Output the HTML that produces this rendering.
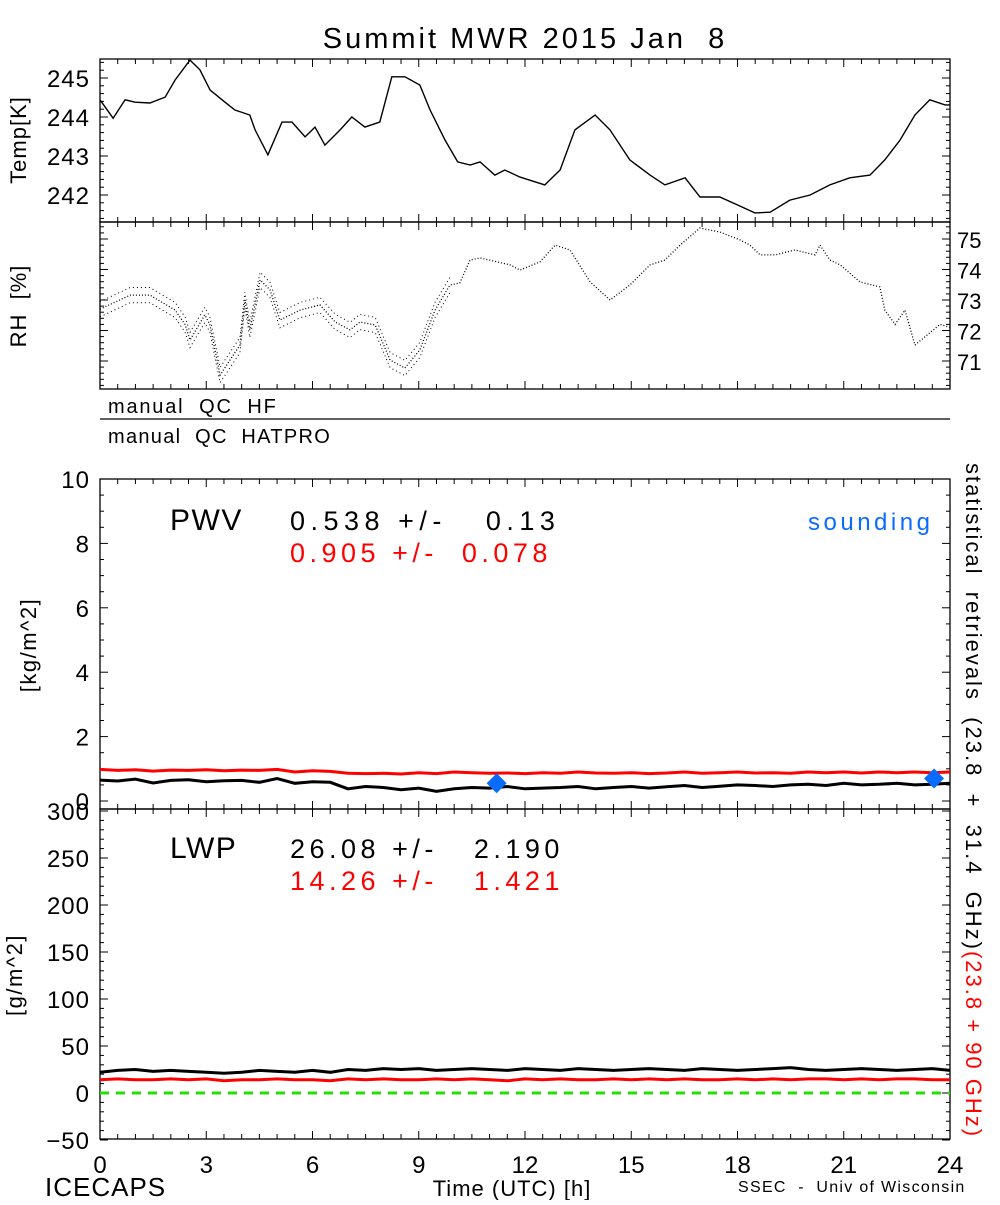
<!DOCTYPE html>
<html><head><meta charset="utf-8"><style>
body{margin:0;background:#fff;}
svg text{font-family:"Liberation Sans",sans-serif;white-space:pre;}
</style></head><body>
<svg id="c" width="1000" height="1200" viewBox="0 0 1000 1200" xmlns="http://www.w3.org/2000/svg" xml:space="preserve">
<rect width="1000" height="1200" fill="#fff"/>
<text x="525" y="48" font-size="29" letter-spacing="3" text-anchor="middle" fill="#000">Summit MWR 2015 Jan  8</text>
<g id="g"></g>
</svg>
<script>
const tempHours=[0,.37,.71,.99,1.41,1.84,2.12,2.54,2.82,3.11,3.53,3.81,4.23,4.38,4.74,5.14,5.42,5.79,6.07,6.35,6.78,7.11,7.48,7.9,8.24,8.61,9.03,9.32,9.74,10.1,10.45,10.73,11.15,11.43,11.86,12.56,12.99,13.41,13.98,14.4,14.96,15.53,15.95,16.52,16.94,17.5,18.01,18.49,18.92,19.48,20.05,20.61,21.17,21.74,22.16,22.59,23.01,23.43,23.86,24];
const tempVals=[244.44,243.97,244.44,244.38,244.36,244.51,244.95,245.46,245.21,244.69,244.38,244.18,244.05,243.67,243.03,243.87,243.87,243.49,243.74,243.28,243.67,244.0,243.74,243.87,245.03,245.03,244.82,244.18,243.41,242.85,242.77,242.85,242.51,242.64,242.46,242.26,242.64,243.67,244.05,243.67,242.9,242.51,242.26,242.44,241.95,241.95,241.74,241.54,241.56,241.87,242.0,242.26,242.44,242.51,242.9,243.41,244.05,244.44,244.31,244.31];
const rhHours=[0,.56,.85,1.41,2.12,2.4,2.54,2.96,3.1,3.39,3.95,4.09,4.23,4.52,4.8,5.08,5.65,6.21,6.64,7.06,7.34,7.77,8.19,8.61,9.03,9.46,9.88,10.16,10.45,10.73,11.58,11.86,12.42,12.85,13.27,13.84,14.4,14.96,15.53,15.95,16.38,16.94,17.5,18.07,18.35,18.64,19.06,19.62,20.19,20.33,20.61,20.9,21.46,22.02,22.16,22.45,22.73,23.01,23.3,23.72,24];
const rhVals=[72.7,73.0,73.16,73.16,72.67,72.2,71.69,72.51,72.2,70.54,71.52,73.0,72.02,73.66,73.33,72.34,72.67,72.84,72.28,72.02,72.28,72.18,71.03,70.77,71.36,72.67,73.49,73.56,74.31,74.38,74.15,73.98,74.25,74.8,74.64,73.59,73.0,73.49,74.15,74.31,74.8,75.36,75.23,74.97,74.8,74.48,74.48,74.64,74.48,74.8,74.31,74.15,73.59,73.43,72.67,72.2,72.67,71.52,71.8,72.2,72.1];
const pwvBlack=[0.65,0.62,0.68,0.56,0.64,0.66,0.6,0.63,0.64,0.58,0.7,0.55,0.6,0.58,0.38,0.45,0.42,0.35,0.4,0.3,0.38,0.42,0.4,0.45,0.38,0.4,0.42,0.45,0.38,0.42,0.45,0.4,0.44,0.48,0.42,0.46,0.5,0.48,0.45,0.5,0.52,0.48,0.55,0.5,0.52,0.55,0.5,0.52,0.55];
const pwvRed=[0.98,0.95,0.97,0.93,0.96,0.95,0.97,0.94,0.96,0.95,0.98,0.9,0.94,0.92,0.86,0.85,0.86,0.84,0.88,0.85,0.9,0.88,0.86,0.87,0.85,0.88,0.86,0.9,0.87,0.86,0.88,0.85,0.87,0.9,0.86,0.88,0.9,0.87,0.88,0.86,0.9,0.88,0.9,0.87,0.9,0.88,0.9,0.88,0.9];
const lwpBlack=[22,24,25,23,24,23,22,21,22,24,23,22,24,22,25,24,26,25,26,24,25,26,25,24,26,25,24,26,25,24,25,26,25,24,26,25,24,25,26,27,25,24,25,26,25,24,25,26,24];
const lwpRed=[14,15,14,14,15,14,15,13,14,14,15,14,14,13,15,14,15,14,14,15,14,15,14,13,15,14,15,14,14,15,14,15,14,15,14,14,15,14,15,14,15,15,14,15,14,15,15,14,14];
const sondeHours=[11.2,23.55];
const sondeVals=[0.55,0.7];
const xTicks=[0,3,6,9,12,15,18,21,24];
const tempTicks=[242,243,244,245];
const rhTicks=[71,72,73,74,75];
const pwvTicks=[0,2,4,6,8,10];
const lwpTicks=[-50,0,50,100,150,200,250,300];

const NS="http://www.w3.org/2000/svg";const G=document.getElementById('g');
function el(t,a,p){const e=document.createElementNS(NS,t);for(const k in a)e.setAttribute(k,a[k]);(p||G).appendChild(e);return e;}
const X0=100,X1=950;const xs=h=>X0+(X1-X0)*h/24;
const P={temp:{t:59,b:222,y:v=>78+(245-v)*39},rh:{t:222,b:389,y:v=>239+(75-v)*30.5},pwv:{t:479,b:809,y:v=>801-v*32.2},lwp:{t:809,b:1139,y:v=>1093-v*0.94}};
function poly(hs,vs,fy,col,w,name,dash){let d=hs.map((h,i)=>(i?'L':'M')+xs(h).toFixed(1)+','+fy(vs[i]).toFixed(1)).join('');const p=el('path',{d:d,fill:'none',stroke:col,'stroke-width':w});if(dash)p.setAttribute('stroke-dasharray',dash);

return p;}
function frame(p,name){const r=el('rect',{x:X0,y:p.t,width:X1-X0,height:p.b-p.t,fill:'none',stroke:'#000','stroke-width':1.3});


for(let h=0;h<=24;h+=0.5){const L=(h%3===0)?8:5;el('line',{x1:xs(h),x2:xs(h),y1:p.t,y2:p.t+L,stroke:'#000'});el('line',{x1:xs(h),x2:xs(h),y1:p.b,y2:p.b-L,stroke:'#000'});}}
function txt(x,y,s,size,col,name,anchor,rot,ls){const t=el('text',{x:x,y:y,'font-size':size,fill:col||'#000'});if(anchor)t.setAttribute('text-anchor',anchor);if(rot)t.setAttribute('transform',`rotate(${rot} ${x} ${y})`);if(ls)t.setAttribute('letter-spacing',ls);t.textContent=s;

return t;}
// temp
frame(P.temp,'temp-panel');
for(let v=241.2;v<=245.6;v+=0.2){const y=P.temp.y(v);if(y<P.temp.t||y>P.temp.b)continue;const maj=Math.abs(v-Math.round(v))<0.01;el('line',{x1:X0,x2:X0+(maj?8:4),y1:y,y2:y,stroke:'#000'});el('line',{x1:X1,x2:X1-(maj?8:4),y1:y,y2:y,stroke:'#000'});}
tempTicks.forEach(v=>txt(90,P.temp.y(v)+9,String(v),24,'#000','temp-tick-label','end',0,1));
txt(26,140,'Temp[K]',22,'#000','temp-axis-title','middle',-90,1);
poly(tempHours,tempVals,P.temp.y,'#000',1.4,'temp-line');
// rh
frame(P.rh,'rh-panel');
for(let v=70.2;v<=75.6;v+=0.2){const y=P.rh.y(v);if(y<P.rh.t||y>P.rh.b)continue;const maj=Math.abs(v-Math.round(v))<0.01;el('line',{x1:X0,x2:X0+(maj?8:4),y1:y,y2:y,stroke:'#000'});el('line',{x1:X1,x2:X1-(maj?8:4),y1:y,y2:y,stroke:'#000'});}
rhTicks.forEach(v=>txt(957,P.rh.y(v)+9,String(v),22,'#000','rh-tick-label'));
txt(26,306,'RH  [%]',22,'#000','rh-axis-title','middle',-90,1);
poly(rhHours,rhVals,P.rh.y,'#000',1.3,'rh-dots','1 2');
const nEarly=rhHours.filter(h=>h<10).length;
poly(rhHours.slice(0,nEarly),rhVals.slice(0,nEarly).map(v=>v+0.25),P.rh.y,'#000',1,'rh-dots-upper','1 3');
poly(rhHours.slice(0,nEarly),rhVals.slice(0,nEarly).map(v=>v-0.25),P.rh.y,'#000',1,'rh-dots-lower','1 3');
// QC
txt(108,413,'manual  QC  HF',20,'#000','qc-hf-label',null,0,1.8);
el('line',{x1:X0,x2:X1,y1:419,y2:419,stroke:'#000','stroke-width':1.3});
txt(108,443,'manual  QC  HATPRO',20,'#000','qc-hatpro-label',null,0,1.3);
// pwv
frame(P.pwv,'pwv-panel');
for(let v=0;v<=10;v+=0.5){const y=P.pwv.y(v);const maj=v%2===0;el('line',{x1:X0,x2:X0+(maj?8:4),y1:y,y2:y,stroke:'#000'});el('line',{x1:X1,x2:X1-(maj?8:4),y1:y,y2:y,stroke:'#000'});}
pwvTicks.forEach(v=>txt(90,P.pwv.y(v)+9,String(v),24,'#000','pwv-tick-label','end',0,1));
txt(36,645,'[kg/m^2]',22,'#000','pwv-axis-title','middle',-90,1.5);
const hh=pwvBlack.map((_,i)=>i*0.5);
poly(hh,pwvRed,P.pwv.y,'#ff0000',3,'pwv-red-line');
poly(hh,pwvBlack,P.pwv.y,'#000',3,'pwv-black-line');
sondeHours.forEach((h,i)=>{const x=xs(h),y=P.pwv.y(sondeVals[i]);const d=el('polygon',{points:`${x},${y-10} ${x+10},${y} ${x},${y+10} ${x-10},${y}`,fill:'#0a6cff'});

});
txt(170,530,'PWV',30,'#000','pwv-label',null,0,1.5);
txt(290,530,'0.538 +/-   0.13',27,'#000','pwv-stat-black',null,0,5.5);
txt(290,562,'0.905 +/-  0.078',27,'#ff0000','pwv-stat-red',null,0,4.5);
txt(808,530,'sounding',24,'#0a6cff','sounding-legend',null,0,3.5);
// lwp
frame(P.lwp,'lwp-panel');
for(let v=-50;v<=300;v+=10){const y=P.lwp.y(v);const maj=v%50===0;el('line',{x1:X0,x2:X0+(maj?8:4),y1:y,y2:y,stroke:'#000'});el('line',{x1:X1,x2:X1-(maj?8:4),y1:y,y2:y,stroke:'#000'});}
lwpTicks.forEach(v=>txt(90,P.lwp.y(v)+9,(v<0?'\u2212':'')+Math.abs(v),24,'#000','lwp-tick-label','end',0,1));
txt(22,975,'[g/m^2]',22,'#000','lwp-axis-title','middle',-90,1.5);
el('line',{x1:X0,x2:X1,y1:P.lwp.y(0),y2:P.lwp.y(0),stroke:'#22e000','stroke-width':3,'stroke-dasharray':'9 7'});
poly(hh,lwpBlack,P.lwp.y,'#000',3,'lwp-black-line');
poly(hh,lwpRed,P.lwp.y,'#ff0000',3,'lwp-red-line');
txt(170,858,'LWP',30,'#000','lwp-label',null,0,1.5);
txt(290,858,'26.08 +/-   2.190',27,'#000','lwp-stat-black',null,0,4.5);
txt(290,890,'14.26 +/-   1.421',27,'#ff0000','lwp-stat-red',null,0,4.5);
// x axis
xTicks.forEach(h=>txt(xs(h),1173,String(h),24,'#000','x-tick-label','middle'));
txt(45,1196,'ICECAPS',26,'#000','icecaps-label',null,0,1);
txt(512,1196,'Time (UTC) [h]',22,'#000','x-axis-title','middle',0,1);
txt(738,1192,'SSEC  -  Univ of Wisconsin',16,'#000','credit-label',null,0,1.3);
// right vertical
const rt=el('text',{x:966,y:463,'font-size':22,'letter-spacing':2,transform:'rotate(90 966 463)'});


const s1=el('tspan',{fill:'#000'},rt);s1.textContent='statistical  retrievals  (23.8  +  31.4  GHz)';
const s2=el('tspan',{fill:'#ff0000'},rt);s2.textContent='(23.8 + 90 GHz)';
</script>
</body></html>
